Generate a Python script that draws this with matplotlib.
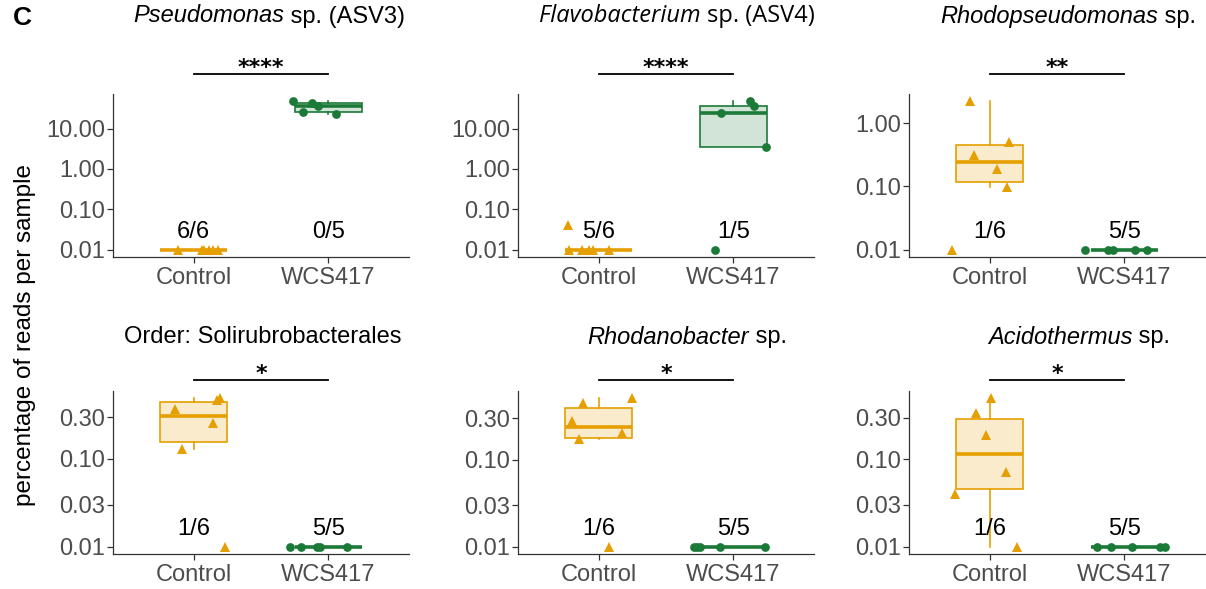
import numpy as np
import matplotlib
matplotlib.use("Agg")
import matplotlib.pyplot as plt
import matplotlib.transforms as mtransforms
from matplotlib.ticker import NullLocator
from matplotlib.offsetbox import TextArea, HPacker, AnnotationBbox

plt.rcParams['font.family'] = ['Liberation Sans', 'DejaVu Sans']

orange = '#E69F00'
green = '#1B7A37'
axcol = '#333333'
txtcol = '#4D4D4D'

groups = ['Control', 'WCS417']

# titles: italic part + plain part
title_it = ['Pseudomonas', 'Flavobacterium', 'Rhodopseudomonas', '', 'Rhodanobacter', 'Acidothermus']
title_rm = [' sp. (ASV3)', ' sp. (ASV4)', ' sp.', 'Order: Solirubrobacterales', ' sp.', ' sp.']
title_font = ['Liberation Sans', 'Open Sans', 'Liberation Sans', 'Liberation Sans', 'Liberation Sans', 'Liberation Sans']
stars = ['****', '****', '**', '*', '*', '*']

# percentage of reads per sample (0 = not detected, drawn at 0.01)
ctrl = [
    [0, 0, 0, 0, 0, 0],
    [0, 0, 0, 0, 0, 0.04],
    [2.2, 0.50, 0.31, 0.186, 0.098, 0],
    [0.375, 0.47, 0.49, 0.26, 0.13, 0],
    [0.448, 0.51, 0.277, 0.204, 0.172, 0],
    [0.50, 0.336, 0.19, 0.0715, 0.0398, 0],
]
wcs = [
    [47, 25, 42, 23.5, 36],
    [47, 36.6, 23.7, 3.4, 0],
    [0, 0, 0, 0, 0],
    [0, 0, 0, 0, 0],
    [0, 0, 0, 0, 0],
    [0, 0, 0, 0, 0],
]
# horizontal jitter
ctrl_jit = [
    [-0.12, 0.06, 0.11, 0.18, 0.08, 0.14],
    [-0.22, -0.125, -0.07, -0.04, 0.08, -0.23],
    [-0.147, 0.142, -0.115, 0.057, 0.127, -0.279],
    [-0.14, 0.17, 0.195, 0.142, -0.09, 0.23],
    [-0.12, 0.245, -0.196, 0.17, -0.15, 0.08],
    [0.007, -0.105, -0.03, 0.12, -0.257, 0.2],
]
wcs_jit = [
    [-0.265, -0.19, -0.12, 0.06, -0.08],
    [0.125, 0.155, -0.09, 0.24, -0.135],
    [-0.294, -0.118, -0.081, 0.083, 0.171],
    [-0.282, -0.2, -0.086, -0.061, 0.14],
    [-0.294, -0.27, -0.245, -0.098, 0.233],
    [-0.203, -0.098, 0.061, 0.262, 0.299],
]
yticks = [
    [0.01, 0.1, 1, 10],
    [0.01, 0.1, 1, 10],
    [0.01, 0.1, 1],
    [0.01, 0.03, 0.1, 0.3],
    [0.01, 0.03, 0.1, 0.3],
    [0.01, 0.03, 0.1, 0.3],
]

W, H = 1206, 589
fig = plt.figure(figsize=(W / 100, H / 100), dpi=100)

lefts = [113, 518, 909]
tops = [94, 391]
aw, ah = 296, 163
bracket_y = [74, 380]
title_y = [16, 337]
title_x = [269, 677, 1068, 263, 687, 1079]
fs = 17


def box_stats(v):
    lv = np.log10(v)
    q1, med, q3 = np.percentile(lv, [25, 50, 75])
    iqr = q3 - q1
    lo = lv[lv >= q1 - 1.5 * iqr].min()
    hi = lv[lv <= q3 + 1.5 * iqr].max()
    return dict(med=10 ** med, q1=10 ** q1, q3=10 ** q3,
                whislo=10 ** lo, whishi=10 ** hi, fliers=[])


for k in range(6):
    r, c = divmod(k, 3)
    ax = fig.add_axes([lefts[c] / W, 1 - (tops[r] + ah) / H, aw / W, ah / H])
    ax.set_yscale('log')

    allv = []
    for gi, (vals, jit, col, mk, ms) in enumerate([
            (ctrl[k], ctrl_jit[k], orange, '^', 7.5),
            (wcs[k], wcs_jit[k], green, 'o', 6.3)]):
        v = np.array(vals, dtype=float)
        nz = int((v == 0).sum())
        v = np.where(v == 0, 0.01, v)
        allv.extend(v)
        st = box_stats(v)
        ax.bxp([st], positions=[gi + 1], widths=0.5, showfliers=False,
               showcaps=False, patch_artist=True,
               boxprops=dict(facecolor=matplotlib.colors.to_rgba(col, 0.2),
                             edgecolor=col, linewidth=1.2),
               whiskerprops=dict(color=col, linewidth=1.2),
               medianprops=dict(color=col, linewidth=2.6, solid_capstyle='butt'))
        ax.plot(gi + 1 + np.array(jit), v, linestyle='none', marker=mk,
                markersize=ms, color=col, markeredgewidth=0, zorder=5)
        ax.annotate(f'{nz}/{len(v)}', xy=(gi + 1, 0.01), xytext=(0, 8),
                    textcoords='offset points', ha='center', va='baseline',
                    fontsize=fs, color='black', zorder=6)

    lv = np.log10(allv)
    span = lv.max() - lv.min()
    ax.set_ylim(10 ** (lv.min() - 0.05 * span), 10 ** (lv.max() + 0.05 * span))
    ax.set_xlim(0.4, 2.6)
    ax.set_xticks([1, 2], groups)
    ax.set_yticks(yticks[k], [f'{t:.2f}' for t in yticks[k]])
    ax.yaxis.set_minor_locator(NullLocator())
    for s in ['top', 'right']:
        ax.spines[s].set_visible(False)
    for s in ['left', 'bottom']:
        ax.spines[s].set_color(axcol)
        ax.spines[s].set_linewidth(0.9)
    ax.tick_params(axis='both', colors=axcol, labelcolor=txtcol, labelsize=fs,
                   length=4, width=0.9)
    ax.tick_params(axis='x', pad=3)
    ax.tick_params(axis='y', pad=1.5)

    # significance bracket
    trans = mtransforms.blended_transform_factory(ax.transData, fig.transFigure)
    yb = 1 - bracket_y[r] / H
    ax.plot([1, 2], [yb, yb], color='black', linewidth=1.3, transform=trans,
            clip_on=False)
    ax.text(1.5, yb, stars[k], transform=trans, ha='center', va='baseline',
            fontsize=16, fontweight='bold', family='DejaVu Sans', color='black')

    # title
    parts = []
    if title_it[k]:
        parts.append(TextArea(title_it[k], textprops=dict(
            fontsize=fs, fontstyle='italic', family=title_font[k], color='black')))
    parts.append(TextArea(title_rm[k], textprops=dict(
        fontsize=fs, family=title_font[k], color='black')))
    pack = HPacker(children=parts, align='baseline', pad=0, sep=0)
    ab = AnnotationBbox(pack, (title_x[k] / W, 1 - title_y[r] / H),
                        xycoords='figure fraction', box_alignment=(0.5, 0.5),
                        frameon=False, pad=0)
    fig.add_artist(ab)

fig.text(13 / W, 1 - 25 / H, 'C', fontsize=19, fontweight='bold', va='baseline')
fig.text(25 / W, 1 - 335 / H, 'percentage of reads per sample', rotation=90,
         ha='center', va='center', fontsize=17.5, color='black')

fig.savefig('out.png', dpi=100)
